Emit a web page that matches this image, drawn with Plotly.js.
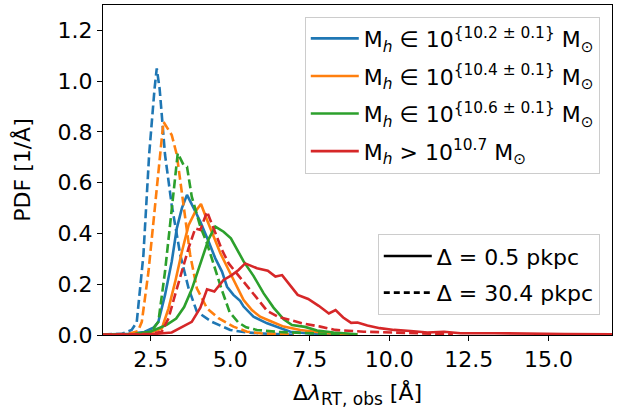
<!DOCTYPE html>
<html>
<head>
<meta charset="utf-8">
<script src="https://cdn.plot.ly/plotly-3.0.1.min.js"></script>
<style>html,body{margin:0;padding:0;background:#fff;}#chart{width:619px;height:412px;}</style>
</head>
<body>
<div id="chart"></div>
<script>
// ---- data ----
const seriesLabels = [
  "M<sub><i>h</i></sub> ∈ 10<sup>{10.2 ± 0.1}</sup> M<sub>⊙</sub>",
  "M<sub><i>h</i></sub> ∈ 10<sup>{10.4 ± 0.1}</sup> M<sub>⊙</sub>",
  "M<sub><i>h</i></sub> ∈ 10<sup>{10.6 ± 0.1}</sup> M<sub>⊙</sub>",
  "M<sub><i>h</i></sub> > 10<sup>10.7</sup> M<sub>⊙</sub>"
];
const styleLabels = ["Δ = 0.5 pkpc", "Δ = 30.4 pkpc"];

// solid: Δ = 0.5 pkpc
const blueSolidX = [1.0, 1.8, 2.3, 2.6, 2.74, 2.95, 3.16, 3.32, 3.48, 3.64, 3.85, 4.06, 4.32, 4.53, 4.74, 4.90, 5.10, 5.31, 5.42, 5.73, 6.16, 6.47, 6.89, 7.5, 8.5];
const blueSolidY = [0.002, 0.005, 0.012, 0.03, 0.052, 0.158, 0.289, 0.42, 0.50, 0.552, 0.50, 0.446, 0.368, 0.302, 0.25, 0.19, 0.158, 0.135, 0.112, 0.072, 0.046, 0.033, 0.013, 0.006, 0.002];

const orangeSolidX = [1.0, 2.0, 2.5, 2.85, 3.06, 3.27, 3.48, 3.69, 3.90, 4.08, 4.27, 4.47, 4.69, 4.95, 5.21, 5.42, 5.68, 5.94, 6.31, 6.68, 7.2, 8.04, 9.0];
const orangeSolidY = [0.001, 0.004, 0.01, 0.026, 0.105, 0.21, 0.328, 0.433, 0.486, 0.516, 0.453, 0.387, 0.322, 0.256, 0.19, 0.138, 0.098, 0.072, 0.052, 0.033, 0.02, 0.007, 0.002];

const greenSolidX = [1.0, 2.0, 2.48, 3.0, 3.3, 3.55, 3.79, 4.11, 4.32, 4.53, 4.79, 5.02, 5.42, 5.73, 6.05, 6.36, 6.68, 6.94, 7.35, 7.73, 8.25, 9.0];
const greenSolidY = [0.001, 0.004, 0.013, 0.04, 0.065, 0.11, 0.18, 0.30, 0.378, 0.427, 0.407, 0.381, 0.29, 0.233, 0.164, 0.108, 0.062, 0.039, 0.032, 0.018, 0.01, 0.003];

const redSolidX = [1.0, 2.5, 3.16, 3.53, 3.79, 4.06, 4.27, 4.50, 4.79, 5.05, 5.26, 5.47, 5.84, 6.18, 6.42, 6.63, 6.89, 7.12, 7.45, 7.78, 8.10, 8.31, 8.55, 8.80, 9.00, 9.31, 9.70, 10.15, 10.67, 11.2, 11.72, 12.24, 13.3, 14.3, 15.5, 17.0];
const redSolidY = [0.001, 0.003, 0.01, 0.033, 0.052, 0.108, 0.18, 0.171, 0.217, 0.236, 0.256, 0.282, 0.263, 0.253, 0.23, 0.236, 0.197, 0.158, 0.142, 0.115, 0.085, 0.098, 0.069, 0.048, 0.049, 0.037, 0.027, 0.02, 0.016, 0.01, 0.013, 0.007, 0.007, 0.005, 0.004, 0.003];

// dashed: Δ = 30.4 pkpc
const blueDashX = [1.0, 1.6, 1.9, 2.06, 2.27, 2.45, 2.62, 2.69, 2.78, 2.95, 3.16, 3.43, 3.69, 3.95, 4.42, 5.0, 5.5, 6.0, 7.0];
const blueDashY = [0.002, 0.005, 0.02, 0.05, 0.315, 0.71, 0.97, 1.05, 0.97, 0.71, 0.512, 0.315, 0.184, 0.092, 0.052, 0.02, 0.01, 0.006, 0.001];

const orangeDashX = [1.0, 1.8, 2.1, 2.22, 2.43, 2.64, 2.80, 2.90, 3.0, 3.16, 3.32, 3.53, 3.74, 3.95, 4.27, 4.63, 5.10, 5.53, 6.0, 7.0];
const orangeDashY = [0.001, 0.004, 0.015, 0.052, 0.25, 0.512, 0.71, 0.84, 0.82, 0.788, 0.71, 0.512, 0.315, 0.184, 0.105, 0.066, 0.033, 0.013, 0.006, 0.002];

const greenDashX = [1.0, 2.0, 2.5, 2.74, 2.95, 3.11, 3.25, 3.35, 3.53, 3.64, 3.79, 4.06, 4.27, 4.50, 4.72, 4.98, 5.25, 5.5, 5.84, 6.5, 7.5, 8.5];
const greenDashY = [0.001, 0.003, 0.012, 0.052, 0.25, 0.446, 0.604, 0.716, 0.67, 0.663, 0.545, 0.427, 0.361, 0.266, 0.183, 0.09, 0.05, 0.03, 0.02, 0.012, 0.006, 0.002];

const redDashX = [1.0, 2.5, 2.85, 3.06, 3.27, 3.48, 3.69, 3.90, 4.06, 4.27, 4.53, 4.74, 4.95, 5.21, 5.53, 5.84, 6.16, 6.5, 6.89, 7.25, 7.83, 8.3, 9.2, 10.0, 11.0, 12.0];
const redDashY = [0.001, 0.004, 0.013, 0.066, 0.16, 0.25, 0.342, 0.42, 0.414, 0.486, 0.40, 0.335, 0.282, 0.243, 0.195, 0.145, 0.095, 0.072, 0.059, 0.046, 0.033, 0.02, 0.013, 0.01, 0.006, 0.003];

const colors = ["#1f77b4", "#ff7f0e", "#2ca02c", "#d62728"];
const solidX = [blueSolidX, orangeSolidX, greenSolidX, redSolidX];
const solidY = [blueSolidY, orangeSolidY, greenSolidY, redSolidY];
const dashX = [blueDashX, orangeDashX, greenDashX, redDashX];
const dashY = [blueDashY, orangeDashY, greenDashY, redDashY];

const LW = 2.6;
const DASH = "9px,4px";
const traces = [];
for (let i = 0; i < 4; i++) {
  traces.push({x: solidX[i], y: solidY[i], mode: "lines", type: "scatter",
    line: {color: colors[i], width: LW}, showlegend: false, hoverinfo: "skip"});
  traces.push({x: dashX[i], y: dashY[i], mode: "lines", type: "scatter",
    line: {color: colors[i], width: LW, dash: DASH}, showlegend: false, hoverinfo: "skip"});
}
// legend entries (each in its own group so tracegroupgap spaces them)
for (let i = 0; i < 4; i++) {
  traces.push({x: [null], y: [null], mode: "lines", type: "scatter", name: seriesLabels[i],
    legendgroup: "m" + i, line: {color: colors[i], width: LW}, legend: "legend"});
}
traces.push({x: [null], y: [null], mode: "lines", type: "scatter", name: styleLabels[0],
  legendgroup: "s0", line: {color: "black", width: LW}, legend: "legend2"});
traces.push({x: [null], y: [null], mode: "lines", type: "scatter", name: styleLabels[1],
  legendgroup: "s1", line: {color: "black", width: LW, dash: "6px,4px"}, legend: "legend2"});

const font = {family: "DejaVu Sans", size: 22, color: "black"};
const layout = {
  width: 619, height: 412,
  margin: {l: 103, r: 7, t: 5, b: 77},
  paper_bgcolor: "white", plot_bgcolor: "white",
  font: font,
  showlegend: true,
  xaxis: {
    range: [1, 17], tick0: 0, dtick: 2.5, tickformat: ".1f",
    showgrid: false, zeroline: false, showline: true, mirror: true,
    linecolor: "black", linewidth: 1, ticks: "outside", ticklen: 5, tickwidth: 1, tickcolor: "black",
    tickfont: font,
    title: {text: "Δ<i>λ</i><sub><span style=\"font-size:17px\">RT, obs</span></sub> [Å]", font: font, standoff: 13}
  },
  yaxis: {
    range: [0, 1.3], tick0: 0, dtick: 0.2, tickformat: ".1f",
    showgrid: false, zeroline: false, showline: true, mirror: true,
    linecolor: "black", linewidth: 1, ticks: "outside", ticklen: 5, tickwidth: 1, tickcolor: "black",
    tickfont: font,
    title: {text: "PDF [1/Å]", font: font, standoff: 20}
  },
  legend: {
    x: 0.976, y: 0.965, xanchor: "right", yanchor: "top",
    bgcolor: "rgba(255,255,255,0.8)", bordercolor: "#cccccc", borderwidth: 1,
    font: font, traceorder: "grouped", tracegroupgap: 6, itemwidth: 48
  },
  legend2: {
    x: 0.976, y: 0.06, xanchor: "right", yanchor: "bottom",
    bgcolor: "rgba(255,255,255,0.8)", bordercolor: "#cccccc", borderwidth: 1,
    font: font, traceorder: "grouped", tracegroupgap: 5, itemwidth: 48
  }
};
Plotly.newPlot("chart", traces, layout, {staticPlot: true});
</script>
</body>
</html>
